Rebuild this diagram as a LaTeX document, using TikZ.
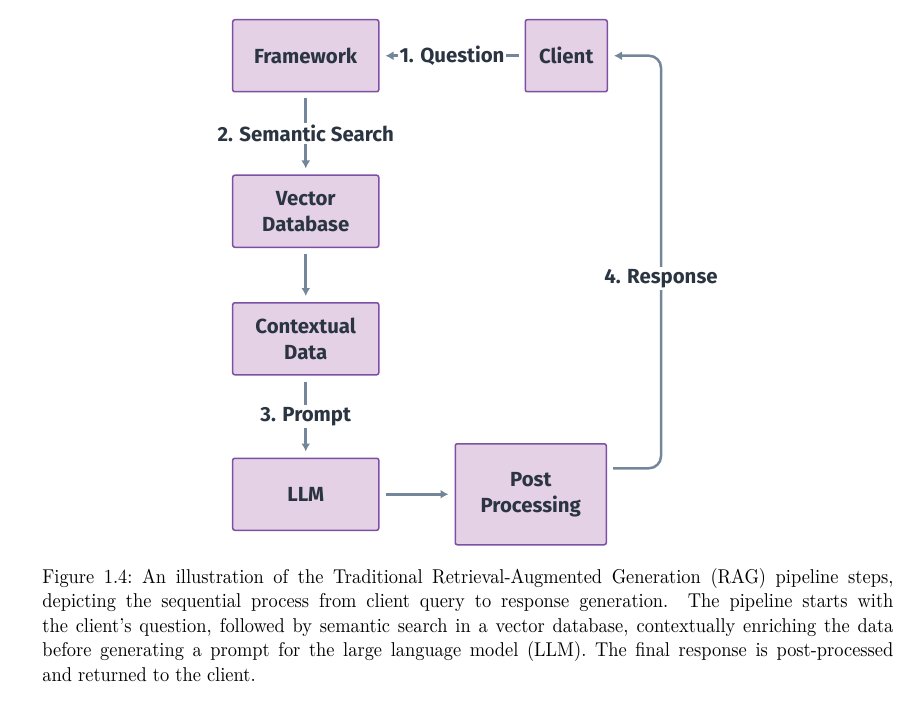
\documentclass[tikz,border=0pt]{standalone}
\usepackage{fontspec}
\setsansfont{Fira Sans}
\usepackage{tikz}
\usetikzlibrary{arrows.meta, positioning}
\definecolor{colorBorde}{HTML}{7D50A5}
\definecolor{colorCaja}{HTML}{E4D1E5}
\definecolor{colorTexto}{HTML}{2B3542}
\definecolor{colorFlecha}{HTML}{74879A}

\begin{document}
\begin{tikzpicture}[
        node distance=41pt,
        l/.style={draw=colorBorde, fill=colorCaja, line width=0.75pt, rounded corners=1pt,
            text width=73pt, align=center, minimum height=36pt, inner sep=0pt, text=colorTexto,
            font=\sffamily\bfseries\fontsize{10.2}{13}\selectfont},
        rel/.style={-{Latex[length=4pt, width=4.5pt]}, colorFlecha, line width=1.25pt,
            shorten <=3pt, shorten >=3pt},
        lab/.style={fill=white, inner sep=1pt, text=colorTexto,
            font=\sffamily\bfseries\fontsize{10.2}{13}\selectfont}
    ]
        \node[l] (fw) {Framework};
        \node[l, text width=41pt, right=72.5pt of fw] (cl) {Client};
        \node[l, below=of fw] (vdb) {Vector\\Database};
        \node[l, below=27pt of vdb] (ctx) {Contextual\\Data};
        \node[l, below=of ctx] (llm) {LLM};
        \node[l, text width=75.5pt, minimum height=50.5pt, right=37.5pt of llm] (pp) {Post\\Processing};
        \coordinate (o) at ([xshift=-116pt, yshift=9.5pt]fw.north west);
        \useasboundingbox (o) rectangle ++(460.5pt,-353pt);
        \draw[rel] (cl) -- node[lab]{1. Question} (fw);
        \draw[rel] (fw) -- node[lab]{2. Semantic Search} (vdb);
        \draw[rel] (vdb) -- (ctx);
        \draw[rel] (ctx) -- node[lab]{3. Prompt} (llm);
        \draw[rel] (llm) -- (pp);
        \draw[rel, rounded corners=6pt] ([yshift=13pt]pp.east) -- ++(27pt,0)
            |- node[lab, pos=0.23]{4. Response} (cl.east);
        % caption
        \node[anchor=north west, inner sep=0pt] (cap) at ([xshift=21pt, yshift=-284pt]o)
            {\scalebox{0.92}[1]{\parbox[t]{462.5pt}{\fontsize{10}{12.25}\selectfont
            Figure 1.4:\ An illustration of the Traditional Retrieval-Augmented Generation (RAG) pipeline steps,\linebreak
            depicting the sequential process from client query to response generation.  The pipeline starts with\linebreak
            the client's question, followed by semantic search in a vector database, contextually enriching the data\linebreak
            before generating a prompt for the large language model (LLM). The final response is post-processed\linebreak
            and returned to the client.}}};
    \end{tikzpicture}
\end{document}
